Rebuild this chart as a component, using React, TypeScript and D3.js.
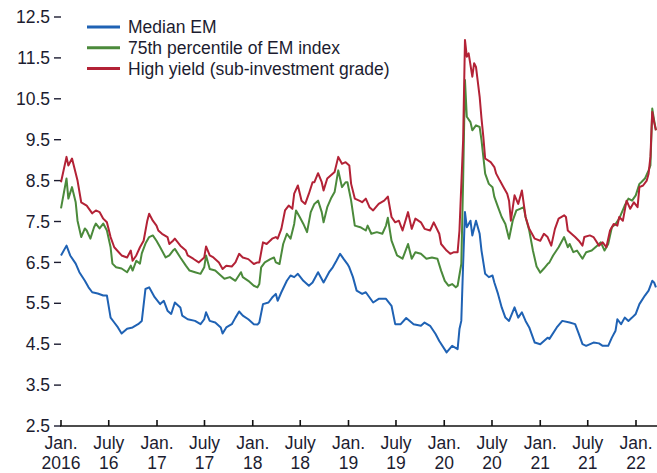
import * as d3 from "d3";

// weekly observations: [weeks since 1 Jan 2016, yield %]
const medianEM: [number, number][] = [
  [0, 6.67], [3, 6.91], [5, 6.67], [8, 6.47], [10, 6.26], [13, 6.05], [15, 5.89], [17, 5.77],
  [20, 5.74], [23, 5.69], [25, 5.69], [27, 5.15], [29, 5.03], [31, 4.91], [33, 4.76], [36, 4.88],
  [39, 4.91], [42, 4.99], [44, 5.07], [46, 5.85], [48, 5.89], [51, 5.65], [54, 5.48], [56, 5.56],
  [58, 5.32], [60, 5.24], [62, 5.52], [65, 5.4], [66, 5.2], [69, 5.11], [73, 5.07], [76, 4.99],
  [78, 5.11], [79, 5.28], [81, 5.07], [84, 5.03], [87, 4.91], [88, 4.76], [90, 4.91], [93, 4.99],
  [95, 5.15], [97, 5.3], [99, 5.2], [102, 5.11], [105, 4.99], [107, 4.98], [108, 5.03], [110, 5.48],
  [113, 5.52], [115, 5.64], [117, 5.73], [118, 5.56], [120, 5.77], [123, 6.05], [125, 6.18], [127, 6.14],
  [129, 6.22], [132, 6.05], [135, 5.93], [137, 6.01], [140, 6.26], [143, 6.01], [146, 6.26], [148, 6.38],
  [150, 6.54], [152, 6.71], [154, 6.58], [156, 6.46], [157, 6.38], [159, 6.14], [161, 5.81], [164, 5.73],
  [166, 5.77], [170, 5.52], [173, 5.61], [177, 5.61], [180, 5.44], [182, 4.99], [185, 4.99], [188, 5.14],
  [192, 4.99], [196, 4.95], [198, 5.03], [201, 4.95], [204, 4.75], [206, 4.58], [210, 4.3], [213, 4.46],
  [216, 4.38], [217, 4.87], [218, 5.07], [219, 6.46], [220, 7.73], [221, 7.36], [223, 7.52], [224, 7.16],
  [226, 7.52], [228, 7.2], [229, 6.79], [231, 6.22], [233, 6.14], [235, 6.18], [236, 6.01], [238, 5.73],
  [240, 5.4], [242, 5.15], [244, 5.07], [247, 5.4], [249, 5.15], [251, 5.28], [253, 5.07], [255, 4.91],
  [258, 4.54], [261, 4.5], [265, 4.66], [266, 4.63], [270, 4.91], [273, 5.07], [277, 5.03], [280, 4.99],
  [282, 4.75], [284, 4.5], [286, 4.46], [290, 4.54], [293, 4.52], [295, 4.46], [298, 4.46], [300, 4.66],
  [302, 4.83], [303, 5.11], [305, 4.99], [307, 5.15], [309, 5.07], [311, 5.15], [313, 5.24], [315, 5.48],
  [318, 5.69], [320, 5.81], [322, 6.05], [323, 6.01], [324, 5.89],
];

const p75EM: [number, number][] = [
  [0, 7.82], [3, 8.55], [4, 8.06], [6, 8.34], [8, 7.97], [9, 7.52], [11, 7.12], [13, 7.33],
  [14, 7.28], [16, 7.08], [18, 7.36], [19, 7.45], [21, 7.33], [23, 7.45], [25, 7.28], [27, 6.87],
  [28, 6.47], [30, 6.38], [33, 6.35], [36, 6.26], [38, 6.42], [39, 6.3], [41, 6.54], [43, 6.47],
  [44, 6.72], [46, 6.96], [48, 7.12], [50, 7.16], [52, 7.03], [54, 6.87], [57, 6.62], [59, 6.67],
  [61, 6.79], [62, 6.83], [65, 6.62], [68, 6.42], [70, 6.3], [73, 6.26], [76, 6.22], [78, 6.38],
  [79, 6.67], [81, 6.34], [84, 6.3], [87, 6.18], [89, 6.1], [92, 6.14], [95, 6.05], [98, 6.26],
  [99, 6.14], [102, 6.05], [105, 5.93], [107, 5.89], [108, 5.97], [109, 6.38], [111, 6.5], [114, 6.58],
  [116, 6.62], [117, 6.5], [119, 6.46], [121, 6.95], [123, 7.2], [125, 7.08], [127, 7.44], [128, 7.77],
  [130, 7.61], [132, 7.44], [134, 7.24], [136, 7.73], [138, 7.93], [140, 8.01], [142, 7.73], [143, 7.48],
  [145, 7.85], [147, 8.06], [149, 8.22], [151, 8.75], [153, 8.34], [155, 8.46], [156, 8.46], [158, 8.01],
  [160, 7.4], [163, 7.36], [166, 7.28], [167, 7.4], [169, 7.2], [172, 7.24], [175, 7.2], [177, 7.4],
  [178, 7.59], [180, 7.03], [183, 6.67], [186, 6.59], [187, 6.71], [189, 6.95], [191, 6.59], [193, 6.75],
  [196, 6.71], [199, 6.59], [202, 6.62], [205, 6.59], [207, 6.3], [209, 6.05], [211, 5.93], [213, 5.97],
  [215, 5.89], [216, 5.93], [218, 6.46], [219, 8.5], [220, 10.96], [221, 10.06], [223, 9.93], [224, 9.73],
  [226, 9.85], [228, 9.81], [229, 9.49], [231, 8.67], [233, 8.42], [235, 8.34], [236, 8.1], [238, 7.85],
  [240, 7.61], [242, 7.44], [244, 7.08], [246, 7.52], [248, 7.77], [250, 7.81], [252, 7.85], [253, 7.61],
  [255, 7.28], [257, 6.79], [259, 6.4], [261, 6.25], [263, 6.35], [265, 6.46], [266, 6.5], [268, 6.67],
  [271, 6.87], [274, 7.12], [276, 6.87], [277, 6.95], [279, 6.75], [281, 6.79], [284, 6.59], [286, 6.75],
  [289, 6.79], [292, 6.91], [294, 6.99], [296, 6.79], [298, 6.95], [300, 7.36], [302, 7.44], [304, 7.57],
  [307, 7.89], [309, 8.06], [311, 8.01], [313, 8.14], [315, 8.42], [316, 8.46], [318, 8.55], [320, 8.75],
  [321, 8.87], [322, 10.26], [323, 9.98], [324, 9.73],
];

const highYield: [number, number][] = [
  [0, 8.46], [3, 9.08], [4, 8.87], [6, 9.04], [9, 8.5], [11, 7.97], [14, 7.89], [17, 7.7],
  [19, 7.77], [21, 7.73], [23, 7.57], [25, 7.48], [27, 7.12], [29, 6.87], [33, 6.67], [36, 6.62],
  [38, 6.79], [39, 6.54], [41, 6.67], [43, 6.87], [45, 7.03], [47, 7.52], [48, 7.69], [50, 7.52],
  [52, 7.4], [53, 7.28], [55, 7.2], [58, 7.12], [59, 6.95], [61, 7.03], [62, 7.08], [65, 6.91],
  [68, 6.79], [69, 6.67], [72, 6.59], [75, 6.5], [78, 6.62], [79, 6.89], [81, 6.67], [83, 6.62],
  [86, 6.5], [88, 6.34], [90, 6.42], [93, 6.4], [95, 6.5], [97, 6.71], [99, 6.62], [102, 6.58],
  [105, 6.46], [107, 6.5], [108, 6.5], [110, 6.99], [112, 6.95], [115, 7.08], [117, 7.12], [118, 7.08],
  [120, 7.32], [122, 7.77], [124, 7.89], [126, 7.81], [127, 8.18], [129, 8.38], [131, 8.01], [133, 7.93],
  [135, 8.18], [137, 8.46], [138, 8.46], [140, 8.68], [142, 8.46], [143, 8.26], [145, 8.55], [147, 8.63],
  [149, 8.71], [151, 9.08], [153, 8.91], [155, 8.95], [157, 8.87], [158, 8.42], [160, 8.06], [163, 8.0],
  [164, 7.97], [166, 8.06], [168, 7.85], [170, 7.77], [173, 7.93], [176, 8.01], [178, 8.11], [180, 7.61],
  [182, 7.48], [184, 7.52], [186, 7.28], [189, 7.73], [191, 7.32], [193, 7.57], [196, 7.48], [198, 7.32],
  [201, 7.28], [203, 7.48], [206, 7.2], [207, 6.95], [210, 6.79], [212, 6.71], [214, 6.75], [216, 6.75],
  [217, 7.28], [219, 9.49], [220, 11.94], [221, 11.53], [222, 11.61], [224, 11.04], [225, 11.37], [226, 11.28],
  [228, 10.55], [229, 10.02], [230, 9.57], [231, 9.04], [234, 8.95], [236, 8.83], [237, 8.67], [239, 8.5],
  [241, 8.34], [243, 8.18], [244, 8.01], [245, 7.52], [247, 8.14], [249, 7.93], [251, 8.26], [253, 7.61],
  [255, 7.32], [258, 7.08], [261, 7.03], [263, 7.2], [265, 7.12], [267, 6.91], [269, 7.32], [271, 7.57],
  [274, 7.65], [275, 7.61], [276, 7.28], [278, 7.2], [280, 7.12], [282, 7.03], [284, 6.91], [285, 7.12],
  [288, 7.16], [290, 7.12], [293, 6.91], [295, 6.99], [297, 6.87], [299, 7.28], [301, 7.44], [303, 7.4],
  [304, 7.61], [306, 7.52], [308, 8.01], [310, 7.81], [312, 7.97], [314, 7.85], [315, 8.34], [317, 8.38],
  [319, 8.5], [320, 8.67], [321, 9.08], [322, 10.18], [323, 9.93], [324, 9.73],
];

const yTicks = [2.5, 3.5, 4.5, 5.5, 6.5, 7.5, 8.5, 9.5, 10.5, 11.5, 12.5];
const xTickLabels: [string, string][] = [
  ["Jan.", "2016"], ["July", "16"], ["Jan.", "17"], ["July", "17"], ["Jan.", "18"],
  ["July", "18"], ["Jan.", "19"], ["July", "19"], ["Jan.", "20"], ["July", "20"],
  ["Jan.", "21"], ["July", "21"], ["Jan.", "22"],
];

const series = [
  { name: "Median EM", data: medianEM, color: "#1f62b4" },
  { name: "75th percentile of EM index", data: p75EM, color: "#4b8a3b" },
  { name: "High yield (sub-investment grade)", data: highYield, color: "#b32236" },
];

const W = 657;
const H = 473;
const START = new Date(2016, 0, 1);
const FONT = "'Liberation Sans', Arial, sans-serif";
const TEXT = "#1c1c30";

export default function App() {
  const x = d3.scaleTime().domain([START, new Date(2022, 0, 1)]).range([61, 636]);
  const y = d3.scaleLinear().domain([2.5, 12.5]).range([426, 17]);
  const toDate = (w: number) => d3.timeDay.offset(START, Math.round(w * 7));
  const line = d3
    .line<[number, number]>()
    .x((d) => x(toDate(d[0])))
    .y((d) => y(d[1]));
  const xTicks = d3.timeMonth.every(6)!.range(START, new Date(2022, 1, 1));

  return (
    <svg
      width={W}
      height={H}
      style={{ position: "absolute", left: 0, top: 0, background: "#fff" }}
      fontFamily={FONT}
    >
      {/* y axis: labels with short dashes, no axis line */}
      {yTicks.map((t) => (
        <g key={t} transform={`translate(0,${y(t)})`}>
          <text x={50} dy="0.35em" textAnchor="end" fontSize={17.5} fill={TEXT}>
            {t.toFixed(1)}
          </text>
          <line x1={54} x2={61} stroke={TEXT} strokeWidth={1.4} />
        </g>
      ))}

      {/* x axis */}
      <line x1={60} x2={W} y1={y(2.5)} y2={y(2.5)} stroke="#111" strokeWidth={1.6} />
      {xTicks.map((d, i) => (
        <g key={i} transform={`translate(${x(d)},${y(2.5)})`}>
          <line y1={0} y2={-6} stroke="#111" strokeWidth={1.6} />
          <text y={23} textAnchor="middle" fontSize={17.5} fill={TEXT}>
            {xTickLabels[i][0]}
          </text>
          <text y={43} textAnchor="middle" fontSize={17.5} fill={TEXT}>
            {xTickLabels[i][1]}
          </text>
        </g>
      ))}

      {/* lines */}
      {series.map((s) => (
        <path
          key={s.name}
          d={line(s.data) ?? ""}
          fill="none"
          stroke={s.color}
          strokeWidth={2}
          strokeLinejoin="round"
        />
      ))}

      {/* legend */}
      {series.map((s, i) => (
        <g key={s.name} transform={`translate(87,${27 + i * 20.7})`}>
          <line x1={0} x2={33} stroke={s.color} strokeWidth={3} />
          <text x={41} dy="0.35em" fontSize={17.5} fill={TEXT}>
            {s.name}
          </text>
        </g>
      ))}
    </svg>
  );
}
